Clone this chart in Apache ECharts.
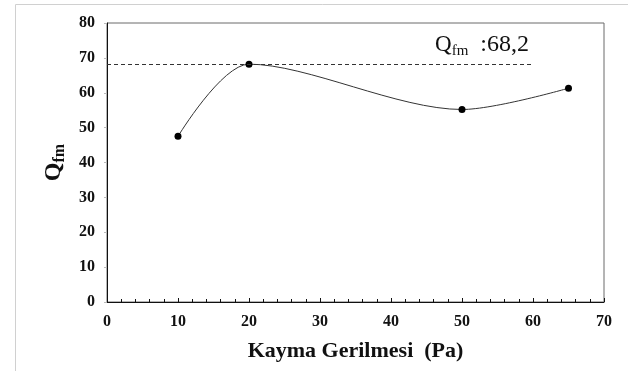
<!DOCTYPE html>
<html>
<head>
<meta charset="utf-8">
<script src="https://cdn.jsdelivr.net/npm/echarts@6/dist/echarts.min.js"></script>
<style>
  html, body { margin: 0; padding: 0; background: #fff; }
  #chart { width: 628px; height: 371px; }
</style>
</head>
<body>
<div id="chart"></div>
<script>
// kayma gerilmesi (Pa) vs Qfm
const shearStress = [10, 20, 50, 65]
const qfm = [47.5, 68.2, 55.2, 61.3]
const maxLine = 68.2
const maxLineEnd = 60

const serif = '"Liberation Serif", "DejaVu Serif", serif'

const chart = echarts.init(document.getElementById('chart'))

chart.setOption({
  animation: false,
  textStyle: {fontFamily: serif},
  graphic: [{
    type: 'rect',
    left: 13, top: 2,
    shape: {width: 620, height: 368},
    style: {fill: 'none', stroke: '#d0d0d0', lineWidth: 1},
    silent: true,
  }],
  grid: {
    left: 107, right: 24, top: 23, bottom: 69,
    show: true,
    borderColor: '#6a6a6a',
    borderWidth: 1,
  },
  xAxis: {
    type: 'value',
    min: 0, max: 70, interval: 10,
    name: 'Kayma Gerilmesi  (Pa)',
    nameLocation: 'middle',
    nameGap: 38,
    nameTextStyle: {fontFamily: serif, fontWeight: 'bold', fontSize: 22, color: '#111'},
    axisLine: {lineStyle: {color: '#111', width: 1}},
    axisTick: {show: true, inside: true, length: 4, lineStyle: {color: '#111'}},
    minorTick: {show: true, splitNumber: 5, length: 3, lineStyle: {color: '#111'}},
    axisLabel: {fontFamily: serif, fontWeight: 'bold', fontSize: 16, color: '#111', margin: 12},
    splitLine: {show: false},
  },
  yAxis: {
    type: 'value',
    min: 0, max: 80, interval: 10,
    name: '{q|Q}{s|fm}',
    nameLocation: 'middle',
    nameGap: 38,
    nameTextStyle: {
      rich: {
        q: {fontFamily: serif, fontWeight: 'bold', fontSize: 24, color: '#111'},
        s: {fontFamily: serif, fontWeight: 'bold', fontSize: 16, color: '#111', padding: [12, 0, 0, 0]},
      },
    },
    axisLine: {show: true, lineStyle: {color: '#111', width: 1}},
    axisTick: {show: true, inside: false, length: 3, lineStyle: {color: '#bbb'}},
    axisLabel: {fontFamily: serif, fontWeight: 'bold', fontSize: 16, color: '#111', margin: 12},
    splitLine: {show: false},
  },
  series: [{
    type: 'line',
    data: shearStress.map((x, i) => [x, qfm[i]]),
    smooth: 0.3,
    symbol: 'circle',
    symbolSize: 7,
    itemStyle: {color: '#000'},
    lineStyle: {color: '#333', width: 1},
    markLine: {
      silent: true,
      symbol: 'none',
      lineStyle: {color: '#333', type: [4, 3], width: 1},
      label: {
        show: true,
        position: 'insideEndTop',
        distance: [4, 6],
        formatter: '{q|Q}{s|fm}{t|  :68,2}',
        rich: {
          q: {fontFamily: serif, fontSize: 23, color: '#111'},
          s: {fontFamily: serif, fontSize: 15, color: '#111', padding: [11, 0, 0, 0]},
          t: {fontFamily: serif, fontSize: 24, color: '#111'},
        },
      },
      data: [[{coord: [0, maxLine]}, {coord: [maxLineEnd, maxLine]}]],
    },
  }],
})
</script>
</body>
</html>
